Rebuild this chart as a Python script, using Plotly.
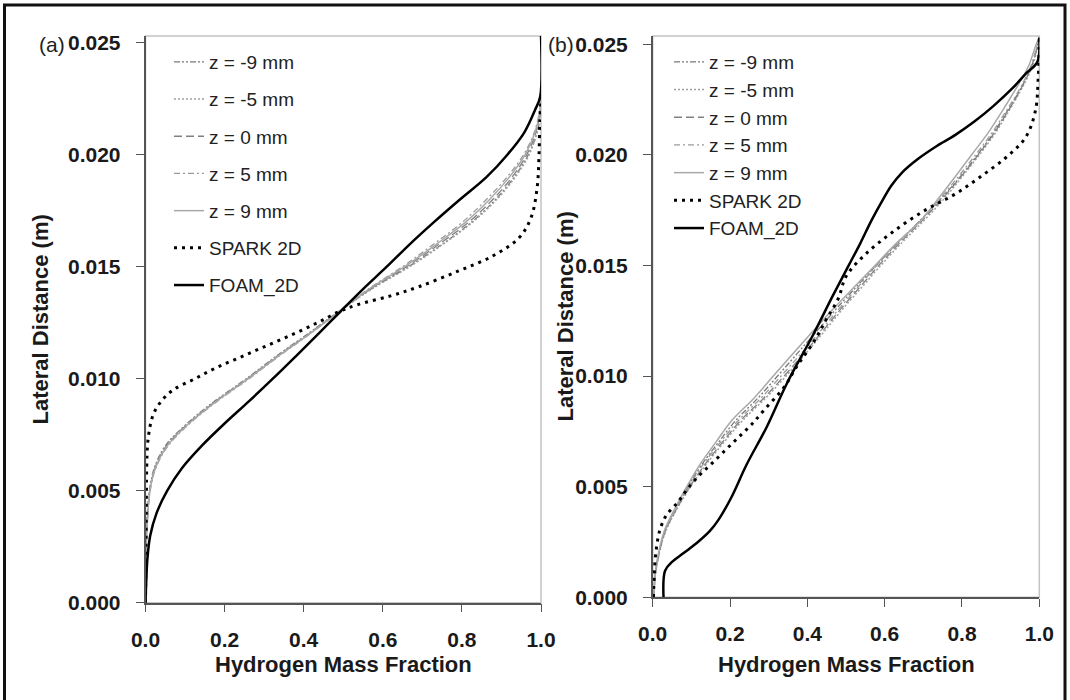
import plotly.graph_objects as go

W, H = 1070, 700

# ---------------- data: panel (a) ----------------
YA_Z = [0, 0.002, 0.003, 0.004, 0.005, 0.006, 0.007, 0.008, 0.009, 0.010, 0.011, 0.012,
        0.013, 0.014, 0.015, 0.016, 0.017, 0.018, 0.019, 0.020, 0.021, 0.022, 0.0225]
XA_ZM9 = [0, 0.001, 0.002, 0.005, 0.010, 0.022, 0.050, 0.105, 0.175, 0.255, 0.330, 0.410,
          0.488, 0.570, 0.665, 0.750, 0.825, 0.885, 0.932, 0.968, 0.990, 0.999, 1.0]
XA_ZM5 = [0, 0.001, 0.002, 0.005, 0.010, 0.023, 0.052, 0.107, 0.177, 0.257, 0.332, 0.412,
          0.490, 0.572, 0.668, 0.752, 0.828, 0.888, 0.935, 0.970, 0.990, 0.999, 1.0]
XA_Z0 = [0, 0.001, 0.003, 0.006, 0.011, 0.024, 0.053, 0.108, 0.178, 0.258, 0.333, 0.413,
         0.490, 0.568, 0.660, 0.742, 0.818, 0.878, 0.927, 0.964, 0.987, 0.998, 1.0]
XA_Z5 = [0, 0.001, 0.003, 0.006, 0.012, 0.026, 0.057, 0.112, 0.182, 0.262, 0.337, 0.416,
         0.490, 0.563, 0.650, 0.728, 0.802, 0.862, 0.914, 0.956, 0.983, 0.997, 1.0]
XA_Z9 = [0, 0.001, 0.003, 0.006, 0.011, 0.025, 0.055, 0.110, 0.180, 0.260, 0.335, 0.415,
         0.490, 0.565, 0.655, 0.735, 0.810, 0.870, 0.920, 0.960, 0.985, 0.998, 1.0]

YA_SPARK = [0, 0.002, 0.004, 0.006, 0.007, 0.0075, 0.008, 0.0085, 0.009, 0.0095, 0.010, 0.0105,
            0.011, 0.0115, 0.012, 0.0125, 0.013, 0.0133, 0.0137, 0.0141, 0.0148, 0.0155, 0.0163,
            0.0172, 0.0185, 0.020, 0.0215, 0.0225]
XA_SPARK = [0.0, 0.001, 0.002, 0.003, 0.005, 0.008, 0.013, 0.022, 0.040, 0.070, 0.125, 0.180,
            0.245, 0.310, 0.375, 0.435, 0.490, 0.535, 0.620, 0.690, 0.790, 0.880, 0.945,
            0.975, 0.990, 0.995, 0.997, 1.0]

YA_FOAM = [0, 0.001, 0.002, 0.003, 0.004, 0.005, 0.006, 0.007, 0.008, 0.009, 0.010, 0.011,
           0.012, 0.013, 0.014, 0.015, 0.016, 0.017, 0.018, 0.019, 0.020, 0.021, 0.022, 0.0226, 0.0253]
XA_FOAM = [0, 0.002, 0.005, 0.012, 0.028, 0.055, 0.092, 0.142, 0.200, 0.262, 0.322, 0.380,
           0.437, 0.493, 0.550, 0.610, 0.668, 0.730, 0.795, 0.862, 0.915, 0.958, 0.985, 0.998, 1.0]

# ---------------- data: panel (b) ----------------
YB_Z = [0, 0.001, 0.002, 0.003, 0.004, 0.005, 0.006, 0.007, 0.008, 0.009, 0.010, 0.011, 0.012,
        0.013, 0.014, 0.015, 0.016, 0.017, 0.018, 0.019, 0.020, 0.021, 0.022, 0.023, 0.024, 0.025, 0.0253]
XB_ZM9 = [0.003, 0.006, 0.016, 0.031, 0.059, 0.091, 0.127, 0.170, 0.215, 0.272, 0.323, 0.373, 0.423,
          0.473, 0.525, 0.578, 0.633, 0.690, 0.745, 0.795, 0.840, 0.882, 0.918, 0.952, 0.980, 0.996, 1.0]
XB_ZM5 = [0.003, 0.007, 0.017, 0.034, 0.063, 0.098, 0.138, 0.184, 0.233, 0.292, 0.345, 0.395, 0.443,
          0.490, 0.540, 0.590, 0.643, 0.700, 0.753, 0.800, 0.845, 0.887, 0.922, 0.955, 0.982, 0.997, 1.0]
XB_Z0 = [0.003, 0.007, 0.017, 0.033, 0.062, 0.096, 0.135, 0.180, 0.228, 0.287, 0.340, 0.390, 0.438,
         0.485, 0.535, 0.585, 0.638, 0.695, 0.748, 0.797, 0.842, 0.884, 0.920, 0.953, 0.980, 0.996, 1.0]
XB_Z5 = [0.003, 0.006, 0.016, 0.032, 0.060, 0.093, 0.130, 0.175, 0.222, 0.280, 0.332, 0.383, 0.432,
         0.480, 0.530, 0.580, 0.632, 0.690, 0.742, 0.790, 0.835, 0.878, 0.915, 0.950, 0.978, 0.995, 1.0]
XB_Z9 = [0.003, 0.006, 0.015, 0.030, 0.057, 0.088, 0.122, 0.163, 0.205, 0.262, 0.312, 0.362, 0.413,
         0.465, 0.520, 0.575, 0.630, 0.692, 0.738, 0.782, 0.825, 0.868, 0.905, 0.940, 0.972, 0.992, 1.0]

YB_SPARK = [0, 0.001, 0.002, 0.003, 0.0037, 0.0043, 0.0049, 0.0055, 0.006, 0.0066, 0.0072, 0.0078,
            0.0085, 0.0095, 0.0105, 0.0115, 0.0125, 0.0135, 0.0145, 0.0155, 0.0165, 0.0175, 0.0182,
            0.019, 0.0199, 0.0208, 0.022, 0.0234, 0.0253]
XB_SPARK = [0.002, 0.004, 0.008, 0.018, 0.035, 0.065, 0.090, 0.120, 0.150, 0.185, 0.220, 0.255,
            0.290, 0.340, 0.375, 0.415, 0.447, 0.480, 0.500, 0.550, 0.620, 0.705, 0.780,
            0.847, 0.915, 0.965, 0.990, 0.997, 1.0]

YB_FOAM = [0, 0.0012, 0.0016, 0.002, 0.0025, 0.003, 0.0035, 0.0045, 0.006, 0.0077, 0.0097, 0.0118,
           0.0136, 0.015, 0.016, 0.017, 0.0178, 0.0186, 0.0192, 0.0198, 0.0204, 0.0209, 0.0215,
           0.0222, 0.023, 0.0237, 0.0242, 0.0253]
XB_FOAM = [0.028, 0.032, 0.050, 0.080, 0.117, 0.148, 0.170, 0.203, 0.243, 0.295, 0.348, 0.413,
           0.465, 0.507, 0.537, 0.565, 0.590, 0.617, 0.645, 0.685, 0.735, 0.783, 0.832,
           0.881, 0.930, 0.967, 0.995, 1.0]

LABELS = ["z = -9 mm", "z = -5 mm", "z = 0 mm", "z = 5 mm", "z = 9 mm", "SPARK 2D", "FOAM_2D"]

# ---------------- styles ----------------
FONT = "Liberation Sans, Arial, sans-serif"
STYLES = [
    dict(color="#7a7a7a", width=1.3, dash="6px,2px,2px,2px,2px,2px"),
    dict(color="#a0a0a0", width=1.5, dash="2px,2px"),
    dict(color="#808080", width=1.3, dash="8px,4px"),
    dict(color="#9a9a9a", width=1.3, dash="6px,3px,2px,3px"),
    dict(color="#a8a8a8", width=1.5),
    dict(color="#000000", width=3, dash="3px,5px"),
    dict(color="#000000", width=2.5),
]

panel_a = [(XA_ZM9, YA_Z), (XA_ZM5, YA_Z), (XA_Z0, YA_Z), (XA_Z5, YA_Z), (XA_Z9, YA_Z),
           (XA_SPARK, YA_SPARK), (XA_FOAM, YA_FOAM)]
panel_b = [(XB_ZM9, YB_Z), (XB_ZM5, YB_Z), (XB_Z0, YB_Z), (XB_Z5, YB_Z), (XB_Z9, YB_Z),
           (XB_SPARK, YB_SPARK), (XB_FOAM, YB_FOAM)]

fig = go.Figure()
for i, (xs, ys) in enumerate(panel_a):
    fig.add_trace(go.Scatter(x=xs, y=ys, mode="lines", name=LABELS[i], line=STYLES[i],
                             xaxis="x", yaxis="y", legend="legend", legendgroup="a%d" % i,
                             cliponaxis=False, line_shape="spline", hoverinfo="skip"))
for i, (xs, ys) in enumerate(panel_b):
    fig.add_trace(go.Scatter(x=xs, y=ys, mode="lines", name=LABELS[i], line=STYLES[i],
                             xaxis="x2", yaxis="y2", legend="legend2",
                             cliponaxis=False, line_shape="spline", hoverinfo="skip"))

def px_x(p):
    return p / W

def px_y(p):
    return 1 - p / H

tickfont = dict(family=FONT, size=21, color="#1a1a1a", weight="bold")
axis_common = dict(showline=True, linecolor="#555555", linewidth=1.5, ticks="outside",
                   ticklen=8, tickcolor="#555555", tickwidth=1.2, showgrid=False,
                   zeroline=False, tickfont=tickfont, fixedrange=True, automargin=False)

fig.update_layout(
    width=W, height=H, margin=dict(l=0, r=0, t=0, b=0, autoexpand=False),
    paper_bgcolor="white", plot_bgcolor="white",
    xaxis=dict(domain=[px_x(145.5), px_x(541)], range=[0, 1], anchor="y",
               tickvals=[0, 0.2, 0.4, 0.6, 0.8, 1.0], tickformat=".1f",
               ticklabelstandoff=9, **axis_common),
    yaxis=dict(domain=[px_y(602.7), px_y(36)], range=[0, 0.0253], anchor="x",
               tickvals=[0, 0.005, 0.010, 0.015, 0.020, 0.025], tickformat=".3f",
               ticklabelstandoff=11, **axis_common),
    xaxis2=dict(domain=[px_x(652.7), px_x(1039.3)], range=[0, 1], anchor="y2",
                tickvals=[0, 0.2, 0.4, 0.6, 0.8, 1.0], tickformat=".1f",
                ticklabelstandoff=9, **axis_common),
    yaxis2=dict(domain=[px_y(597.3), px_y(36)], range=[0, 0.02537], anchor="x2",
                tickvals=[0, 0.005, 0.010, 0.015, 0.020, 0.025], tickformat=".3f",
                ticklabelstandoff=11, **axis_common),
    legend=dict(x=px_x(169), y=px_y(43), xanchor="left", yanchor="top",
                bgcolor="rgba(0,0,0,0)", borderwidth=0, traceorder="grouped",
                tracegroupgap=9.5, itemwidth=30,
                font=dict(family=FONT, size=19, color="#222222")),
    legend2=dict(x=px_x(669), y=px_y(43), xanchor="left", yanchor="top",
                 bgcolor="rgba(0,0,0,0)", borderwidth=0, itemwidth=30,
                 font=dict(family=FONT, size=19, color="#222222")),
    showlegend=True,
)

# plot-area borders (light grey) and outer frame
shapes = []
for xr, yr in (("x domain", "y domain"), ("x2 domain", "y2 domain")):
    shapes.append(dict(type="rect", xref=xr, yref=yr, x0=0, x1=1, y0=0, y1=1,
                       line=dict(color="#c4c4c4", width=1.5), layer="below"))
shapes.append(dict(type="rect", xref="paper", yref="paper", x0=px_x(4.5), x1=px_x(1065),
                   y0=-0.02, y1=px_y(5), line=dict(color="#111111", width=3)))
fig.update_layout(shapes=shapes)

title_font = dict(family=FONT, size=22, color="#1a1a1a", weight="bold")
ann = [
    dict(text="(a)", x=px_x(37), y=px_y(45), xanchor="left", yanchor="middle",
         font=dict(family=FONT, size=21, color="#222222")),
    dict(text="(b)", x=px_x(546), y=px_y(45), xanchor="left", yanchor="middle",
         font=dict(family=FONT, size=21, color="#222222")),
    dict(text="Lateral Distance (m)", x=px_x(40), y=px_y(319.5), textangle=-90,
         xanchor="center", yanchor="middle", font=title_font),
    dict(text="Lateral Distance (m)", x=px_x(565), y=px_y(316.5), textangle=-90,
         xanchor="center", yanchor="middle", font=title_font),
    dict(text="Hydrogen Mass Fraction", x=px_x(343), y=px_y(664), xanchor="center",
         yanchor="middle", font=title_font),
    dict(text="Hydrogen Mass Fraction", x=px_x(846), y=px_y(664), xanchor="center",
         yanchor="middle", font=title_font),
]
for a in ann:
    a.update(xref="paper", yref="paper", showarrow=False)
fig.update_layout(annotations=ann)

fig.write_html("out.html")
